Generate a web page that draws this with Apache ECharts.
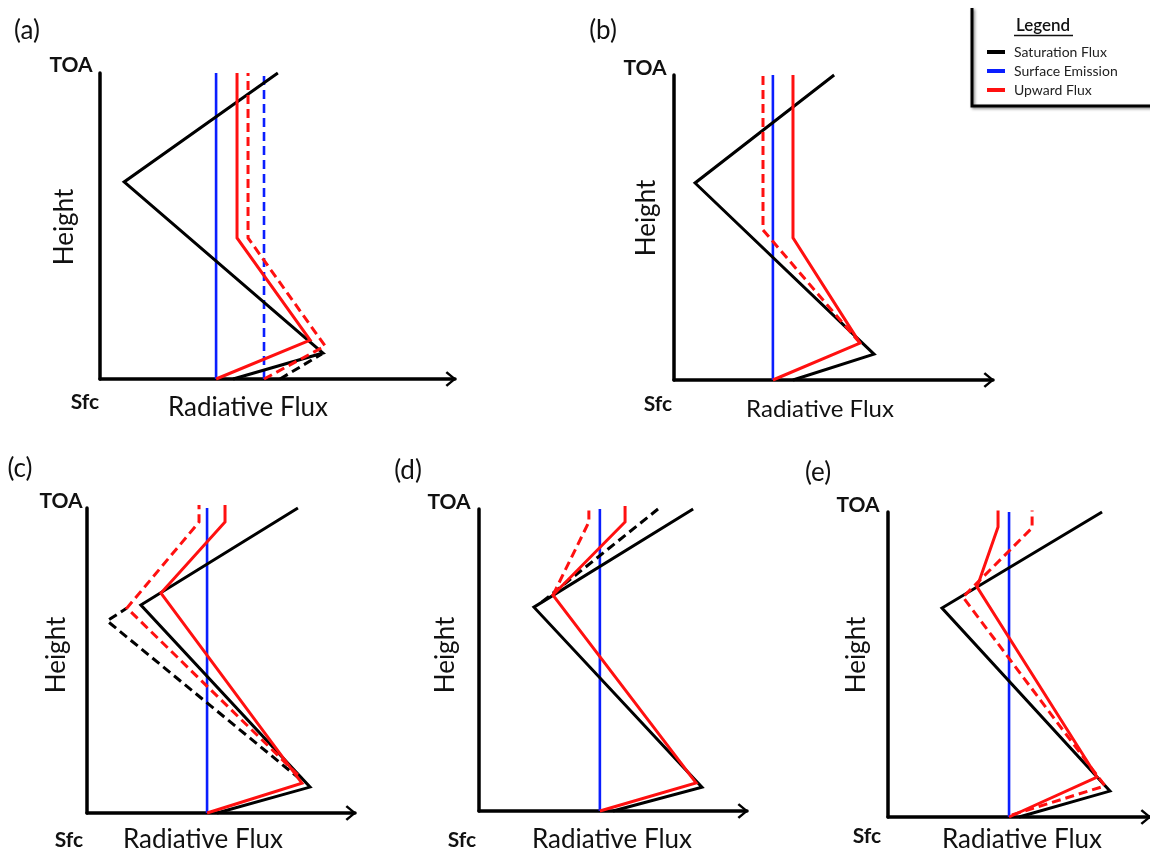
<!DOCTYPE html>
<html>
<head>
<meta charset="utf-8">
<script src="https://cdn.jsdelivr.net/npm/echarts@6/dist/echarts.min.js"></script>
<style>
html,body{margin:0;padding:0;background:#fff;}
#chart{width:1150px;height:851px;}
</style>
</head>
<body>
<div id="chart"></div>
<script>
// ---- Data (normalised: flux 0..100 along the x axis, height 0 = Sfc .. 100 = TOA) ----
const panelLabels = ['(a)', '(b)', '(c)', '(d)', '(e)'];
const legendNames = ['Saturation Flux', 'Surface Emission', 'Upward Flux'];

// panel (a)
const satA      = [[37.5, 0], [62.8, 8.5], [6.8, 64.4], [50.1, 100]];
const satDashA  = [[50.7, 0], [62.5, 8.2]];
const sfcA      = [[32.7, 0], [32.7, 100]];
const sfcDashA  = [[46.2, 0], [46.2, 100]];
const upA       = [[32.7, 0], [59.2, 12.7], [38.6, 46.1], [38.6, 100]];
const upDashA   = [[46.2, 0], [63.4, 10.8], [41.7, 46.1], [41.7, 100]];

// panel (b)
const satB      = [[37.3, 0], [62.7, 8.5], [6.6, 64.6], [50.2, 100]];
const sfcB      = [[31.0, 0], [31.0, 100]];
const upB       = [[31.0, 0], [58.3, 12.1], [37.3, 46.6], [37.3, 100]];
const upDashB   = [[58.3, 12.1], [27.9, 49.2], [27.9, 100]];

// panel (c)
const satC      = [[48.5, 0], [83.2, 8.5], [20.1, 68.2], [78.7, 100]];
const satDashC  = [[79.5, 11.1], [7.5, 63.0], [14.9, 67.2]];
const sfcC      = [[44.8, 0], [44.8, 100]];
const upC       = [[44.8, 0], [80.2, 9.8], [27.6, 72.1], [51.5, 95.4], [51.5, 101]];
const upDashC   = [[78.7, 12.5], [14.9, 67.2], [41.8, 95.4], [41.8, 101]];

// panel (d)
const satD      = [[50.0, 0], [83.2, 7.9], [20.5, 67.5], [79.9, 100]];
const satDashD  = [[23.5, 69.2], [66.8, 100]];
const sfcD      = [[45.1, 0], [45.1, 100]];
const upD       = [[45.1, 0], [81.0, 9.3], [27.6, 71.5], [54.5, 95.7], [54.5, 101]];
const upDashD   = [[27.6, 71.5], [41.0, 95.7], [41.0, 101]];

// panel (e)
const satE      = [[50.0, 0], [84.7, 8.5], [20.6, 68.5], [81.7, 100]];
const sfcE      = [[46.2, 0], [46.2, 100]];
const upE       = [[46.2, 0], [79.8, 13.1], [34.0, 75.4], [42.0, 95.1], [42.0, 100.5]];
const upDashE   = [[47.3, 0.7], [82.8, 10.2], [28.6, 72.1], [55.0, 94.8], [55.0, 100.5]];

// ---- Layout ----
const grids = [
  {left: 100, top: 73,  width: 355, height: 306},
  {left: 674, top: 75,  width: 319, height: 305},
  {left: 87,  top: 508, width: 268, height: 305},
  {left: 479, top: 509, width: 268, height: 302},
  {left: 888, top: 512, width: 262, height: 305}
];
const BLACK = '#000000', BLUE = '#0a1eff', RED = '#ff1010';
const DASH = [9, 5];
const FONT = 'Lato';

const chevron = 'path://M0,9.5 L8,0 L16,9.5 L14,11.2 L8,3.6 L2,11.2 Z';

const chart = echarts.init(document.getElementById('chart'), null, {renderer: 'canvas'});

const xAxes = grids.map((g, i) => ({
  type: 'value', gridIndex: i, min: 0, max: 100,
  axisLine: {show: true, onZero: false, lineStyle: {color: '#000', width: 3.5},
             symbol: ['none', chevron], symbolSize: [16, 11], symbolOffset: [0, -4]},
  axisTick: {show: false}, axisLabel: {show: false}, splitLine: {show: false}
}));
const yAxes = grids.map((g, i) => ({
  type: 'value', gridIndex: i, min: 0, max: 100,
  axisLine: {show: true, onZero: false, lineStyle: {color: '#000', width: 3.5}},
  axisTick: {show: false}, axisLabel: {show: false}, splitLine: {show: false}
}));

function ln(name, panel, data, color, dashed, width, z) {
  return {
    type: 'line', name: name, xAxisIndex: panel, yAxisIndex: panel,
    data: data, symbol: 'none', showSymbol: false, clip: false, animation: false,
    lineStyle: {color: color, width: width || 3, type: dashed ? DASH : 'solid', cap: 'butt', join: 'miter'},
    itemStyle: {color: color}, z: z || 2, silent: true
  };
}

const series = [
  // (a)
  ln('Surface Emission', 0, sfcA, BLUE, false, 2.6, 1),
  ln('Surface Emission (dashed)', 0, sfcDashA, BLUE, true, 2.6, 1),
  ln('Saturation Flux', 0, satA, BLACK, false, 3, 2),
  ln('Saturation Flux (dashed)', 0, satDashA, BLACK, true, 3, 2),
  ln('Upward Flux', 0, upA, RED, false, 3, 3),
  ln('Upward Flux (dashed)', 0, upDashA, RED, true, 3, 3),
  // (b)
  ln('Surface Emission', 1, sfcB, BLUE, false, 2.6, 1),
  ln('Saturation Flux', 1, satB, BLACK, false, 3, 2),
  ln('Upward Flux', 1, upB, RED, false, 3, 3),
  ln('Upward Flux (dashed)', 1, upDashB, RED, true, 3, 3),
  // (c)
  ln('Surface Emission', 2, sfcC, BLUE, false, 2.6, 1),
  ln('Saturation Flux', 2, satC, BLACK, false, 3, 2),
  ln('Saturation Flux (dashed)', 2, satDashC, BLACK, true, 3, 2),
  ln('Upward Flux', 2, upC, RED, false, 3, 3),
  ln('Upward Flux (dashed)', 2, upDashC, RED, true, 3, 3),
  // (d)
  ln('Surface Emission', 3, sfcD, BLUE, false, 2.6, 1),
  ln('Saturation Flux', 3, satD, BLACK, false, 3, 2),
  ln('Saturation Flux (dashed)', 3, satDashD, BLACK, true, 3, 2),
  ln('Upward Flux', 3, upD, RED, false, 3, 3),
  ln('Upward Flux (dashed)', 3, upDashD, RED, true, 3, 3),
  // (e)
  ln('Surface Emission', 4, sfcE, BLUE, false, 2.6, 1),
  ln('Saturation Flux', 4, satE, BLACK, false, 3, 2),
  ln('Upward Flux', 4, upE, RED, false, 3, 3),
  ln('Upward Flux (dashed)', 4, upDashE, RED, true, 3, 3)
];

// ---- Text placement per panel ----
const labelPos = [
  {tag: [27, 31],   toa: [71, 65],   sfc: [85, 402],  h: [65, 227],  rf: [248, 408], rfSize: 26},
  {tag: [603, 31],  toa: [645, 68],  sfc: [658, 404], h: [647, 218], rf: [820, 409], rfSize: 24},
  {tag: [20, 469],  toa: [61, 501],  sfc: [69, 840],  h: [57, 655],  rf: [203, 840], rfSize: 26},
  {tag: [408, 471], toa: [449, 502], sfc: [462, 840], h: [446, 655], rf: [612, 840], rfSize: 26},
  {tag: [818, 473], toa: [858, 505], sfc: [867, 836], h: [857, 655], rf: [1022, 840], rfSize: 26}
];

function txt(s, x, y, size, weight, rot) {
  return {
    type: 'text', x: x, y: y, rotation: rot || 0, silent: true,
    style: {text: s, fill: '#111', font: (weight || 'normal') + ' ' + size + 'px ' + FONT,
            textAlign: 'center', textVerticalAlign: 'middle'}
  };
}

const graphics = [];
labelPos.forEach((p, i) => {
  graphics.push(txt(panelLabels[i], p.tag[0], p.tag[1], 26, 'normal'));
  graphics.push(txt('TOA', p.toa[0], p.toa[1], 21, 'bold'));
  graphics.push(txt('Sfc', p.sfc[0], p.sfc[1], 21, 'bold'));
  graphics.push(txt('Height', p.h[0], p.h[1], 26, 'normal', Math.PI / 2));
  graphics.push(txt('Radiative Flux', p.rf[0], p.rf[1], p.rfSize, 'normal'));
});

// legend frame
const frameStyle = {stroke: '#000', lineWidth: 3, shadowBlur: 3, shadowColor: 'rgba(0,0,0,0.45)', shadowOffsetX: 1.5, shadowOffsetY: 1.5};
graphics.push({type: 'polyline', silent: true, shape: {points: [[972, 8], [972, 106], [1152, 106]]}, style: frameStyle});
graphics.push(txt('Legend', 1043, 26, 17, '600'));
graphics.push({type: 'line', silent: true, shape: {x1: 1014, y1: 35.5, x2: 1073, y2: 35.5}, style: {stroke: '#111', lineWidth: 1.3}});

chart.setOption({
  backgroundColor: '#ffffff',
  animation: false,
  grid: grids.map(g => Object.assign({containLabel: false}, g)),
  xAxis: xAxes,
  yAxis: yAxes,
  legend: {
    data: legendNames, orient: 'vertical', left: 982, top: 40,
    itemWidth: 18, itemHeight: 4, itemGap: 5, icon: 'rect', selectedMode: false,
    textStyle: {fontFamily: FONT, fontSize: 14, color: '#222', lineHeight: 14, padding: [0, 0, 0, 4]}
  },
  series: series,
  graphic: graphics
});
</script>
</body>
</html>
